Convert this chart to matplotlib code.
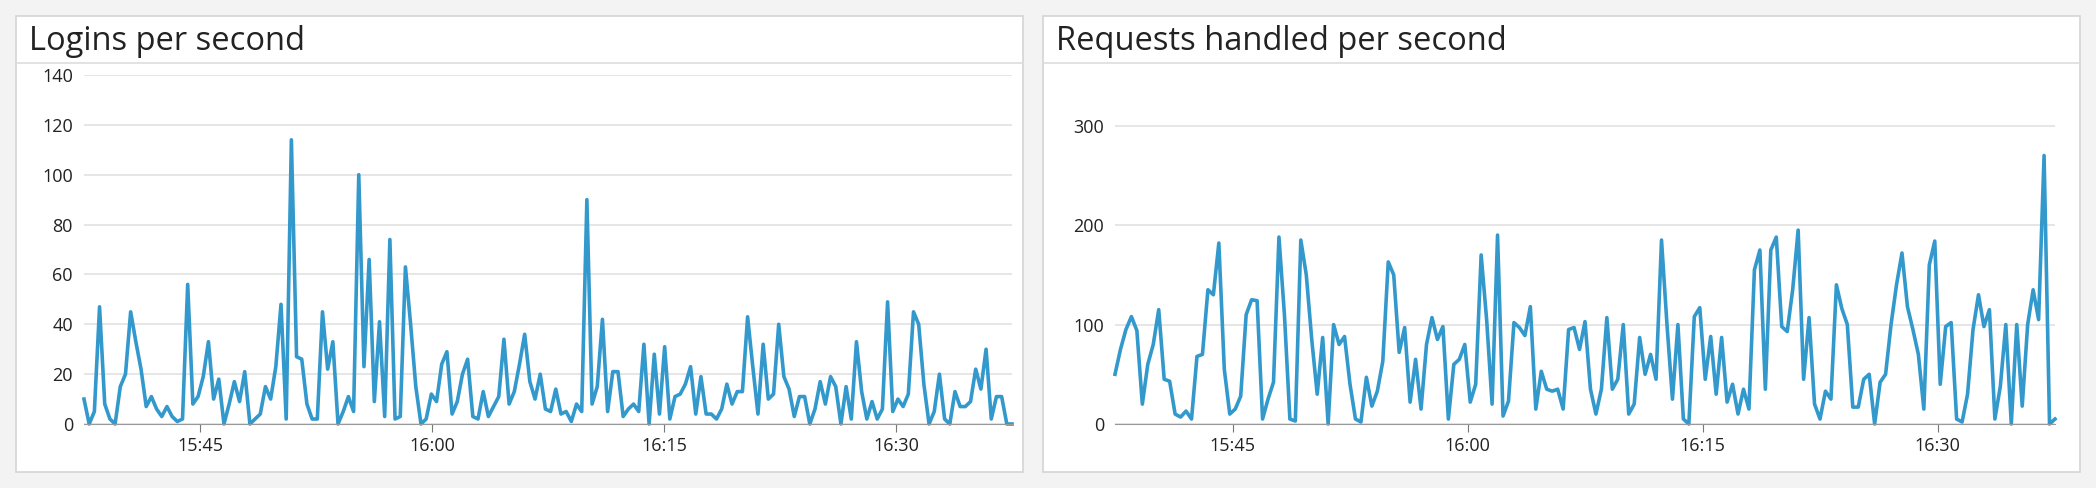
import numpy as np
import matplotlib.pyplot as plt
from matplotlib.patches import Rectangle
from matplotlib.lines import Line2D

# ----------------------------
# Data
# ----------------------------
logins = [10, 0, 5, 47, 8, 2, 0, 15, 20, 45, 33, 22, 7, 11, 6, 3, 7, 3, 1, 2, 56, 8, 11,
          19, 33, 10, 18, 0, 8, 17, 9, 21, 0, 2, 4, 15, 10, 23, 48, 2, 114, 27, 26, 8, 2, 2,
          45, 22, 33, 0, 5, 11, 5, 100, 23, 66, 9, 41, 3, 74, 2, 3, 63, 40, 15, 0, 2, 12, 9,
          24, 29, 4, 9, 20, 26, 3, 2, 13, 3, 7, 11, 34, 8, 13, 24, 36, 17, 10, 20, 6, 5, 14,
          4, 5, 1, 8, 5, 90, 8, 15, 42, 5, 21, 21, 3, 6, 8, 5, 32, 0, 28, 4, 31, 2, 11, 12, 16,
          23, 4, 19, 4, 4, 2, 6, 16, 8, 13, 13, 43, 23, 4, 32, 10, 12, 40, 19, 14, 3, 11, 11,
          0, 6, 17, 8, 19, 15, 0, 15, 2, 33, 13, 2, 9, 2, 6, 49, 5, 10, 7, 12, 45, 40, 16, 0,
          5, 20, 2, 0, 13, 7, 7, 9, 22, 14, 30, 2, 11, 11, 0, 0]

requests = [50, 75, 95, 108, 94, 20, 60, 80, 115, 45, 43, 10, 7, 13, 5, 68, 70, 135, 130,
            182, 55, 10, 15, 28, 110, 125, 124, 5, 25, 42, 188, 110, 5, 3, 185, 150, 85, 30,
            87, 0, 100, 80, 88, 40, 5, 2, 47, 18, 33, 63, 163, 150, 72, 97, 22, 65, 15, 80,
            107, 85, 98, 5, 60, 65, 80, 22, 40, 170, 105, 20, 190, 8, 23, 102, 97, 89, 118, 15,
            53, 35, 33, 35, 15, 95, 97, 75, 103, 35, 10, 35, 107, 35, 45, 100, 10, 20, 87, 50,
            70, 45, 185, 100, 25, 100, 5, 0, 108, 117, 45, 88, 30, 87, 22, 40, 10, 35, 15, 155,
            175, 35, 175, 188, 98, 93, 135, 195, 45, 107, 20, 5, 33, 25, 140, 116, 100, 17, 17,
            45, 50, 0, 42, 50, 100, 140, 172, 118, 95, 70, 15, 160, 184, 40, 98, 102, 5, 2, 30,
            95, 130, 98, 115, 5, 38, 100, 0, 100, 18, 100, 135, 105, 270, 0, 5]

tick_minutes = [7.5, 22.5, 37.5, 52.5]          # minutes after 15:37:30
tick_labels = ["15:45", "16:00", "16:15", "16:30"]

titles = ["Logins per second", "Requests handled per second"]
line_color = "#3399cc"

W, H = 2096, 488
fig = plt.figure(figsize=(W / 100, H / 100), dpi=100)
fig.patch.set_facecolor("#f3f3f3")


def fx(px):
    return px / W


def fy(py):
    return 1 - py / H


panels = [
    # panel box (x0, x1), axes (x0, x1), axes top, ylim, yticks
    ((16, 1023), (84, 1012), 75, 140, [0, 20, 40, 60, 80, 100, 120, 140]),
    ((1043, 2080), (1115, 2055), 75, 351, [0, 100, 200, 300]),
]
series = [logins, requests]

for (box, axx, top, ymax, yticks), title, vals in zip(panels, titles, series):
    y0, y1 = 16, 472
    fig.patches.append(Rectangle((fx(box[0]), fy(y1)), fx(box[1] - box[0]), (y1 - y0) / H,
                                 transform=fig.transFigure, facecolor="white",
                                 edgecolor="#d4d4d4", lw=1.2, zorder=-2))
    fig.lines.append(Line2D([fx(box[0]), fx(box[1])], [fy(63), fy(63)],
                            transform=fig.transFigure, color="#dddddd", lw=1.2, zorder=-1))
    fig.text(fx(box[0] + 13), fy(41), title, fontsize=23.5, color="#222222", va="center",
             family="Open Sans")

    ax = fig.add_axes([fx(axx[0]), fy(424), fx(axx[1] - axx[0]), (424 - top) / H])
    ax.patch.set_alpha(0)
    x = np.linspace(0, 60, len(vals))
    ax.plot(x, vals, color=line_color, lw=2.6, clip_on=False)
    ax.set_xlim(0, 60)
    ax.set_ylim(0, ymax)
    ax.set_yticks(yticks)
    ax.set_xticks(tick_minutes)
    ax.set_xticklabels(tick_labels)
    ax.grid(axis="y", color="#e2e2e2", lw=1.2)
    ax.set_axisbelow(True)
    for s in ["top", "right", "left"]:
        ax.spines[s].set_visible(False)
    ax.spines["bottom"].set_color("#999999")
    ax.tick_params(axis="y", length=0, labelsize=13, pad=8, labelcolor="#222222")
    ax.tick_params(axis="x", length=6, color="#777777", labelsize=13, labelcolor="#222222")
    for lab in ax.get_xticklabels() + ax.get_yticklabels():
        lab.set_family("Open Sans")

fig.savefig("out.png", dpi=100, facecolor=fig.get_facecolor())
